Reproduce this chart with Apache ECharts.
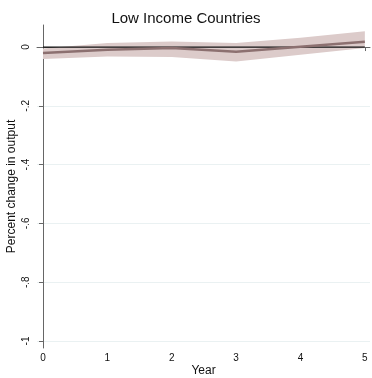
<!DOCTYPE html>
<html><head><meta charset="utf-8">
<script src="https://cdn.jsdelivr.net/npm/echarts@6/dist/echarts.min.js"></script>
<style>html,body{margin:0;padding:0;background:#fff}#c{width:372px;height:378px}</style>
</head><body><div id="c"></div>
<script>
const years = [0, 1, 2, 3, 4, 5];
const estimate = [-0.020, -0.009, -0.003, -0.016, 0.001, 0.018];
const upper = [-0.005, 0.014, 0.019, 0.014, 0.032, 0.054];
const lower = [-0.041, -0.032, -0.034, -0.049, -0.026, -0.003];
const baseline = [0, 0, 0, 0, 0, 0];
const yTicks = [0, -0.2, -0.4, -0.6, -0.8, -1];
const yTickLabels = ['0', '-.2', '-.4', '-.6', '-.8', '-1'];
const xTicks = [0, 1, 2, 3, 4, 5];

const font = 'Liberation Sans, Arial, sans-serif';
const chart = echarts.init(document.getElementById('c'), null, {renderer: 'canvas'});
const pairs = a => years.map((y, i) => [y, a[i]]);
chart.setOption({
  animation: false,
  title: {text: 'Low Income Countries', left: 'center', top: 6,
    textStyle: {fontFamily: font, fontSize: 15, fontWeight: 'normal', color: '#111'}},
  grid: {left: 37, right: 2, top: 25, bottom: 30, outerBoundsMode: 'none', containLabel: false},
  xAxis: {
    type: 'value', min: -0.093, max: 5.08,
    name: 'Year', nameLocation: 'middle', nameGap: 17, nameMoveOverlap: false,
    nameTextStyle: {fontFamily: font, fontSize: 12, color: '#111'},
    axisLine: {show: true, lineStyle: {color: '#666', width: 1}},
    axisTick: {show: true, length: 4, lineStyle: {color: '#666'}, customValues: xTicks},
    axisLabel: {fontFamily: font, fontSize: 10, color: '#111', margin: 5, customValues: xTicks},
    splitLine: {show: false}
  },
  yAxis: {
    type: 'value', min: -1.024, max: 0.075,
    name: 'Percent change in output', nameLocation: 'middle', nameGap: 19, nameMoveOverlap: false,
    nameTextStyle: {fontFamily: font, fontSize: 12, color: '#111'},
    axisLine: {show: true, lineStyle: {color: '#666', width: 1}},
    axisTick: {show: true, length: 4, lineStyle: {color: '#666'}, customValues: yTicks},
    axisLabel: {fontFamily: font, fontSize: 10, color: '#111', rotate: 90, margin: 6,
      customValues: yTicks,
      formatter: v => { const i = yTicks.findIndex(t => Math.abs(t - v) < 1e-6); return i >= 0 ? yTickLabels[i] : ''; }},
    splitLine: {show: true, lineStyle: {color: '#eaf1f2', width: 1}}
  },
  series: [
    {type: 'custom', silent: true, z: 1,
      data: years.map((y, i) => [y, upper[i], lower[i]]),
      renderItem: (params, api) => {
        if (params.dataIndex !== 0) return null;
        const top = years.map((y, i) => api.coord([y, upper[i]]));
        const bot = years.map((y, i) => api.coord([y, lower[i]])).reverse();
        return {type: 'polygon', shape: {points: top.concat(bot)},
          style: {fill: '#dccbca', stroke: null}};
      }},
    {type: 'line', data: pairs(baseline), symbol: 'none',
      lineStyle: {color: '#111', width: 1.2}, z: 3},
    {type: 'line', data: pairs(estimate), symbol: 'none',
      lineStyle: {color: '#8c7070', width: 2.5}, z: 4}
  ]
});
</script></body></html>
